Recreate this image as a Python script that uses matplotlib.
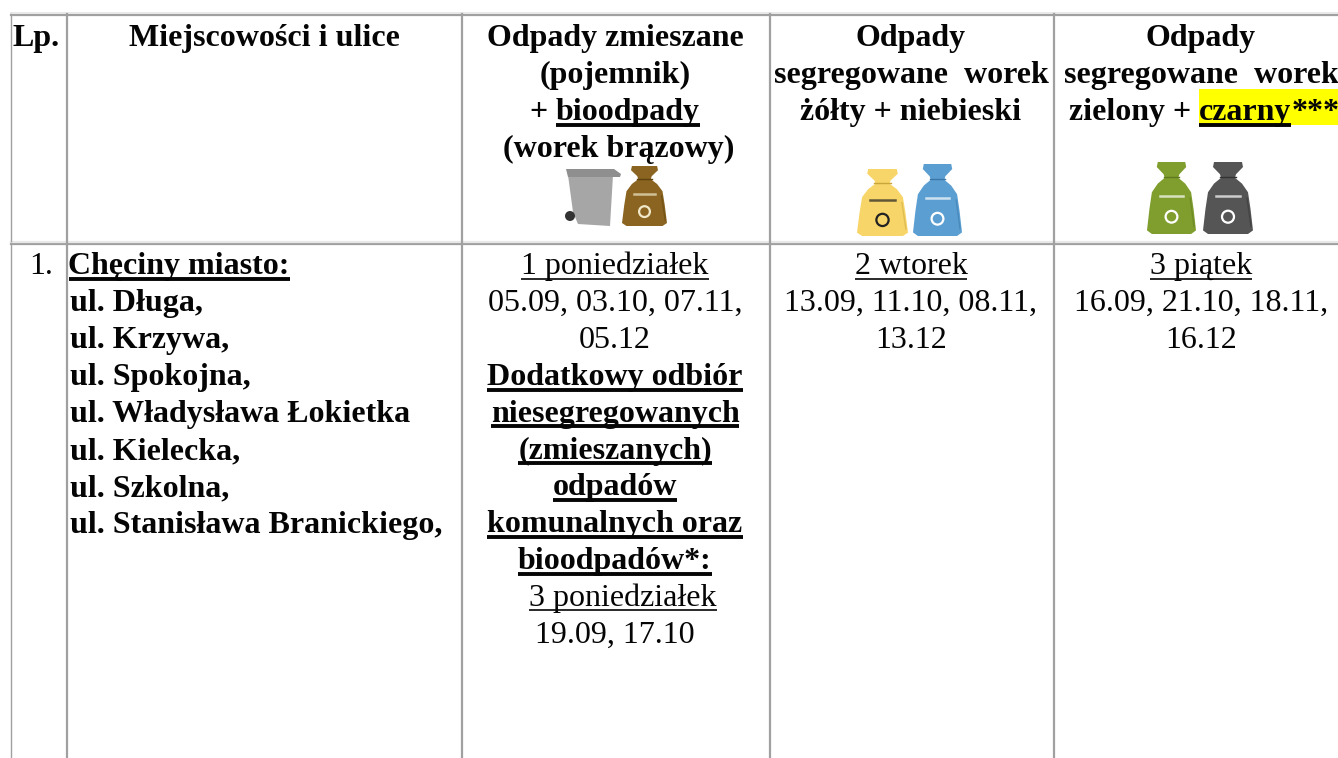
import matplotlib
matplotlib.use("Agg")
import matplotlib.pyplot as plt
from matplotlib.patches import Polygon, Rectangle, Circle

plt.rcParams['font.family'] = ['Liberation Serif', 'DejaVu Serif']

W, H = 1338, 758
FS = 23.0
GRAY = "#a0a0a0"
LIGHT = "#e8e8e8"

col_x = [11, 67, 462, 770, 1054]
col_cx = [36, 264, 615, 911, 1201]

header_lp = "Lp."
header_place = "Miejscowości i ulice"
header_mixed = ["Odpady zmieszane", "(pojemnik)"]
header_bio = "bioodpady"
header_bag = "(worek brązowy)"
header_yb = ["Odpady", "żółty + niebieski"]
header_gb = ["Odpady"]
header_seg = "segregowane  worek"
row_no = "1."
place_title = "Chęciny miasto:"
streets = ["ul. Długa,", "ul. Krzywa,", "ul. Spokojna,", "ul. Władysława Łokietka",
           "ul. Kielecka,", "ul. Szkolna,", "ul. Stanisława Branickiego,"]
mixed_day = "1 poniedziałek"
mixed_dates = ["05.09, 03.10, 07.11,", "05.12"]
extra_lines = ["Dodatkowy odbiór", "niesegregowanych", "(zmieszanych)", "odpadów",
               "komunalnych oraz", "bioodpadów*:"]
extra_day = "3 poniedziałek"
extra_dates = ["19.09, 17.10"]
yb_day = "2 wtorek"
yb_dates = ["13.09, 11.10, 08.11,", "13.12"]
gb_day = "3 piątek"
gb_dates = ["16.09, 21.10, 18.11,", "16.12"]

fig = plt.figure(figsize=(W / 100, H / 100), dpi=100)
ax = fig.add_axes([0, 0, 1, 1])
ax.set_xlim(0, W)
ax.set_ylim(H, 0)
ax.axis("off")
rend = fig.canvas.get_renderer()


def runs(cx, y, parts, bold=True, left=None):
    # parts: (text, underline, highlight); laid out from measured widths
    items = []
    total = 0
    for s, ul, hl in parts:
        t = ax.text(0, y, s, fontsize=FS, fontweight="bold" if bold else "normal",
                    va="baseline", ha="left", color="#050505", zorder=3)
        w = t.get_window_extent(rend).width
        items.append((t, w, ul, hl))
        total += w
    x = left if left is not None else cx - total / 2
    for t, w, ul, hl in items:
        t.set_x(x)
        if hl:
            ax.add_patch(Rectangle((x, y - 31), w, 36, color="#ffff00", lw=0, zorder=1))
        if ul:
            ax.plot([x, x + w], [y + 4.5, y + 4.5], color="#050505",
                    lw=2.8 if bold else 1.2, solid_capstyle="butt", zorder=3)
        x += w


def line(cx, y, s, bold=False, ul=False):
    runs(cx, y, [(s, ul, False)], bold=bold)


# grid
ax.plot([11, W], [14.5, 14.5], color=GRAY, lw=1.6, zorder=2)
ax.plot([11, W], [12.5, 12.5], color=LIGHT, lw=1.4, zorder=2)
ax.plot([11, W], [244, 244], color=GRAY, lw=1.6, zorder=2)
ax.plot([11, W], [241.8, 241.8], color=LIGHT, lw=1.6, zorder=2)
for i, x in enumerate(col_x):
    lw = 1.0 if i == 0 else 1.6
    ax.plot([x, x], [14, 240.5], color=GRAY, lw=lw, zorder=2)
    ax.plot([x, x], [243, H], color=GRAY, lw=lw, zorder=2)

# header row
line(col_cx[0], 46, header_lp, bold=True)
line(col_cx[1], 46, header_place, bold=True)
for i, s in enumerate(header_mixed):
    line(col_cx[2], 46 + 37 * i, s, bold=True)
runs(col_cx[2], 120, [("+ ", False, False), (header_bio, True, False)])
line(619, 157, header_bag, bold=True)
line(col_cx[3], 46, header_yb[0], bold=True)
line(col_cx[3], 120, header_yb[1], bold=True)
line(col_cx[4], 46, header_gb[0], bold=True)
for cx in (col_cx[3], col_cx[4]):
    line(cx, 83, header_seg, bold=True)
runs(1204, 120, [("zielony + ", False, False), ("czarny", True, True), ("***", False, True)])

# body row
line(41, 274, row_no)
runs(0, 274, [(place_title, True, False)], left=68.5)
y = 274 + 37
for s in streets:
    runs(0, y, [(s, False, False)], left=70)
    y += 37

line(col_cx[2], 274, mixed_day, ul=True)
y = 311
for s in mixed_dates:
    line(col_cx[2], y, s)
    y += 37
for s in extra_lines:
    line(col_cx[2], y, s, bold=True, ul=True)
    y += 36.8
runs(col_cx[2], y, [("  ", False, False), (extra_day, True, False)], bold=False)
y += 37
for s in extra_dates:
    line(col_cx[2], y, s)

line(col_cx[3], 274, yb_day, ul=True)
for i, s in enumerate(yb_dates):
    line(col_cx[3], 311 + 37 * i, s)
line(col_cx[4], 274, gb_day, ul=True)
for i, s in enumerate(gb_dates):
    line(col_cx[4], 311 + 37 * i, s)


# icons
def bag(x0, x1, y0, y1, color, dark, mark="#ffffff"):
    w = x1 - x0
    h = y1 - y0
    shape = [(.22, 0), (.78, 0), (.8, .07), (.66, .17), (.64, .22), (.78, .3), (.9, .42), (.95, .65),
             (1, .95), (.9, 1), (.1, 1), (0, .95), (.05, .65), (.1, .42), (.22, .3), (.36, .22),
             (.34, .17), (.2, .07)]
    ax.add_patch(Polygon([(x0 + w * a, y0 + h * b) for a, b in shape], closed=True,
                         fc=color, ec="none", zorder=2, joinstyle="round"))
    ax.plot([x0 + w * .34, x0 + w * .66], [y0 + h * .21, y0 + h * .21], color=dark, lw=1, zorder=3)
    ax.plot([x0 + w * .88, x0 + w * .96], [y0 + h * .5, y0 + h * .9], color=dark, lw=1, alpha=.5, zorder=3)
    ax.add_patch(Circle((x0 + w * .5, y0 + h * .76), w * .12, fc="none", ec=mark, lw=1.6, zorder=3))
    ax.plot([x0 + w * .26, x0 + w * .74], [y0 + h * .47, y0 + h * .47], color=mark, lw=1.8, alpha=.7, zorder=3)


ax.add_patch(Polygon([(568, 175), (613, 175), (610, 226), (578, 224), (573, 212)],
                     closed=True, fc="#a6a6a6", ec="none", zorder=2))
ax.add_patch(Polygon([(566, 169), (614, 169), (621, 174), (620, 177), (568, 177)], closed=True,
                     fc="#8f8f8f", ec="none", zorder=2))
ax.add_patch(Circle((570, 216), 5, fc="#333333", ec="none", zorder=3))
bag(622, 667, 166, 226, "#8a6420", "#5e4210", mark="#f0e8c8")
bag(857, 908, 169, 236, "#f7d568", "#c9a53c", mark="#222222")
bag(913, 962, 164, 236, "#5b9fd2", "#3a76a6")
bag(1147, 1196, 162, 234, "#7f9e2e", "#5f7a1e")
bag(1203, 1253, 162, 234, "#555555", "#333333")

fig.savefig("out.png", dpi=100, facecolor="white")
